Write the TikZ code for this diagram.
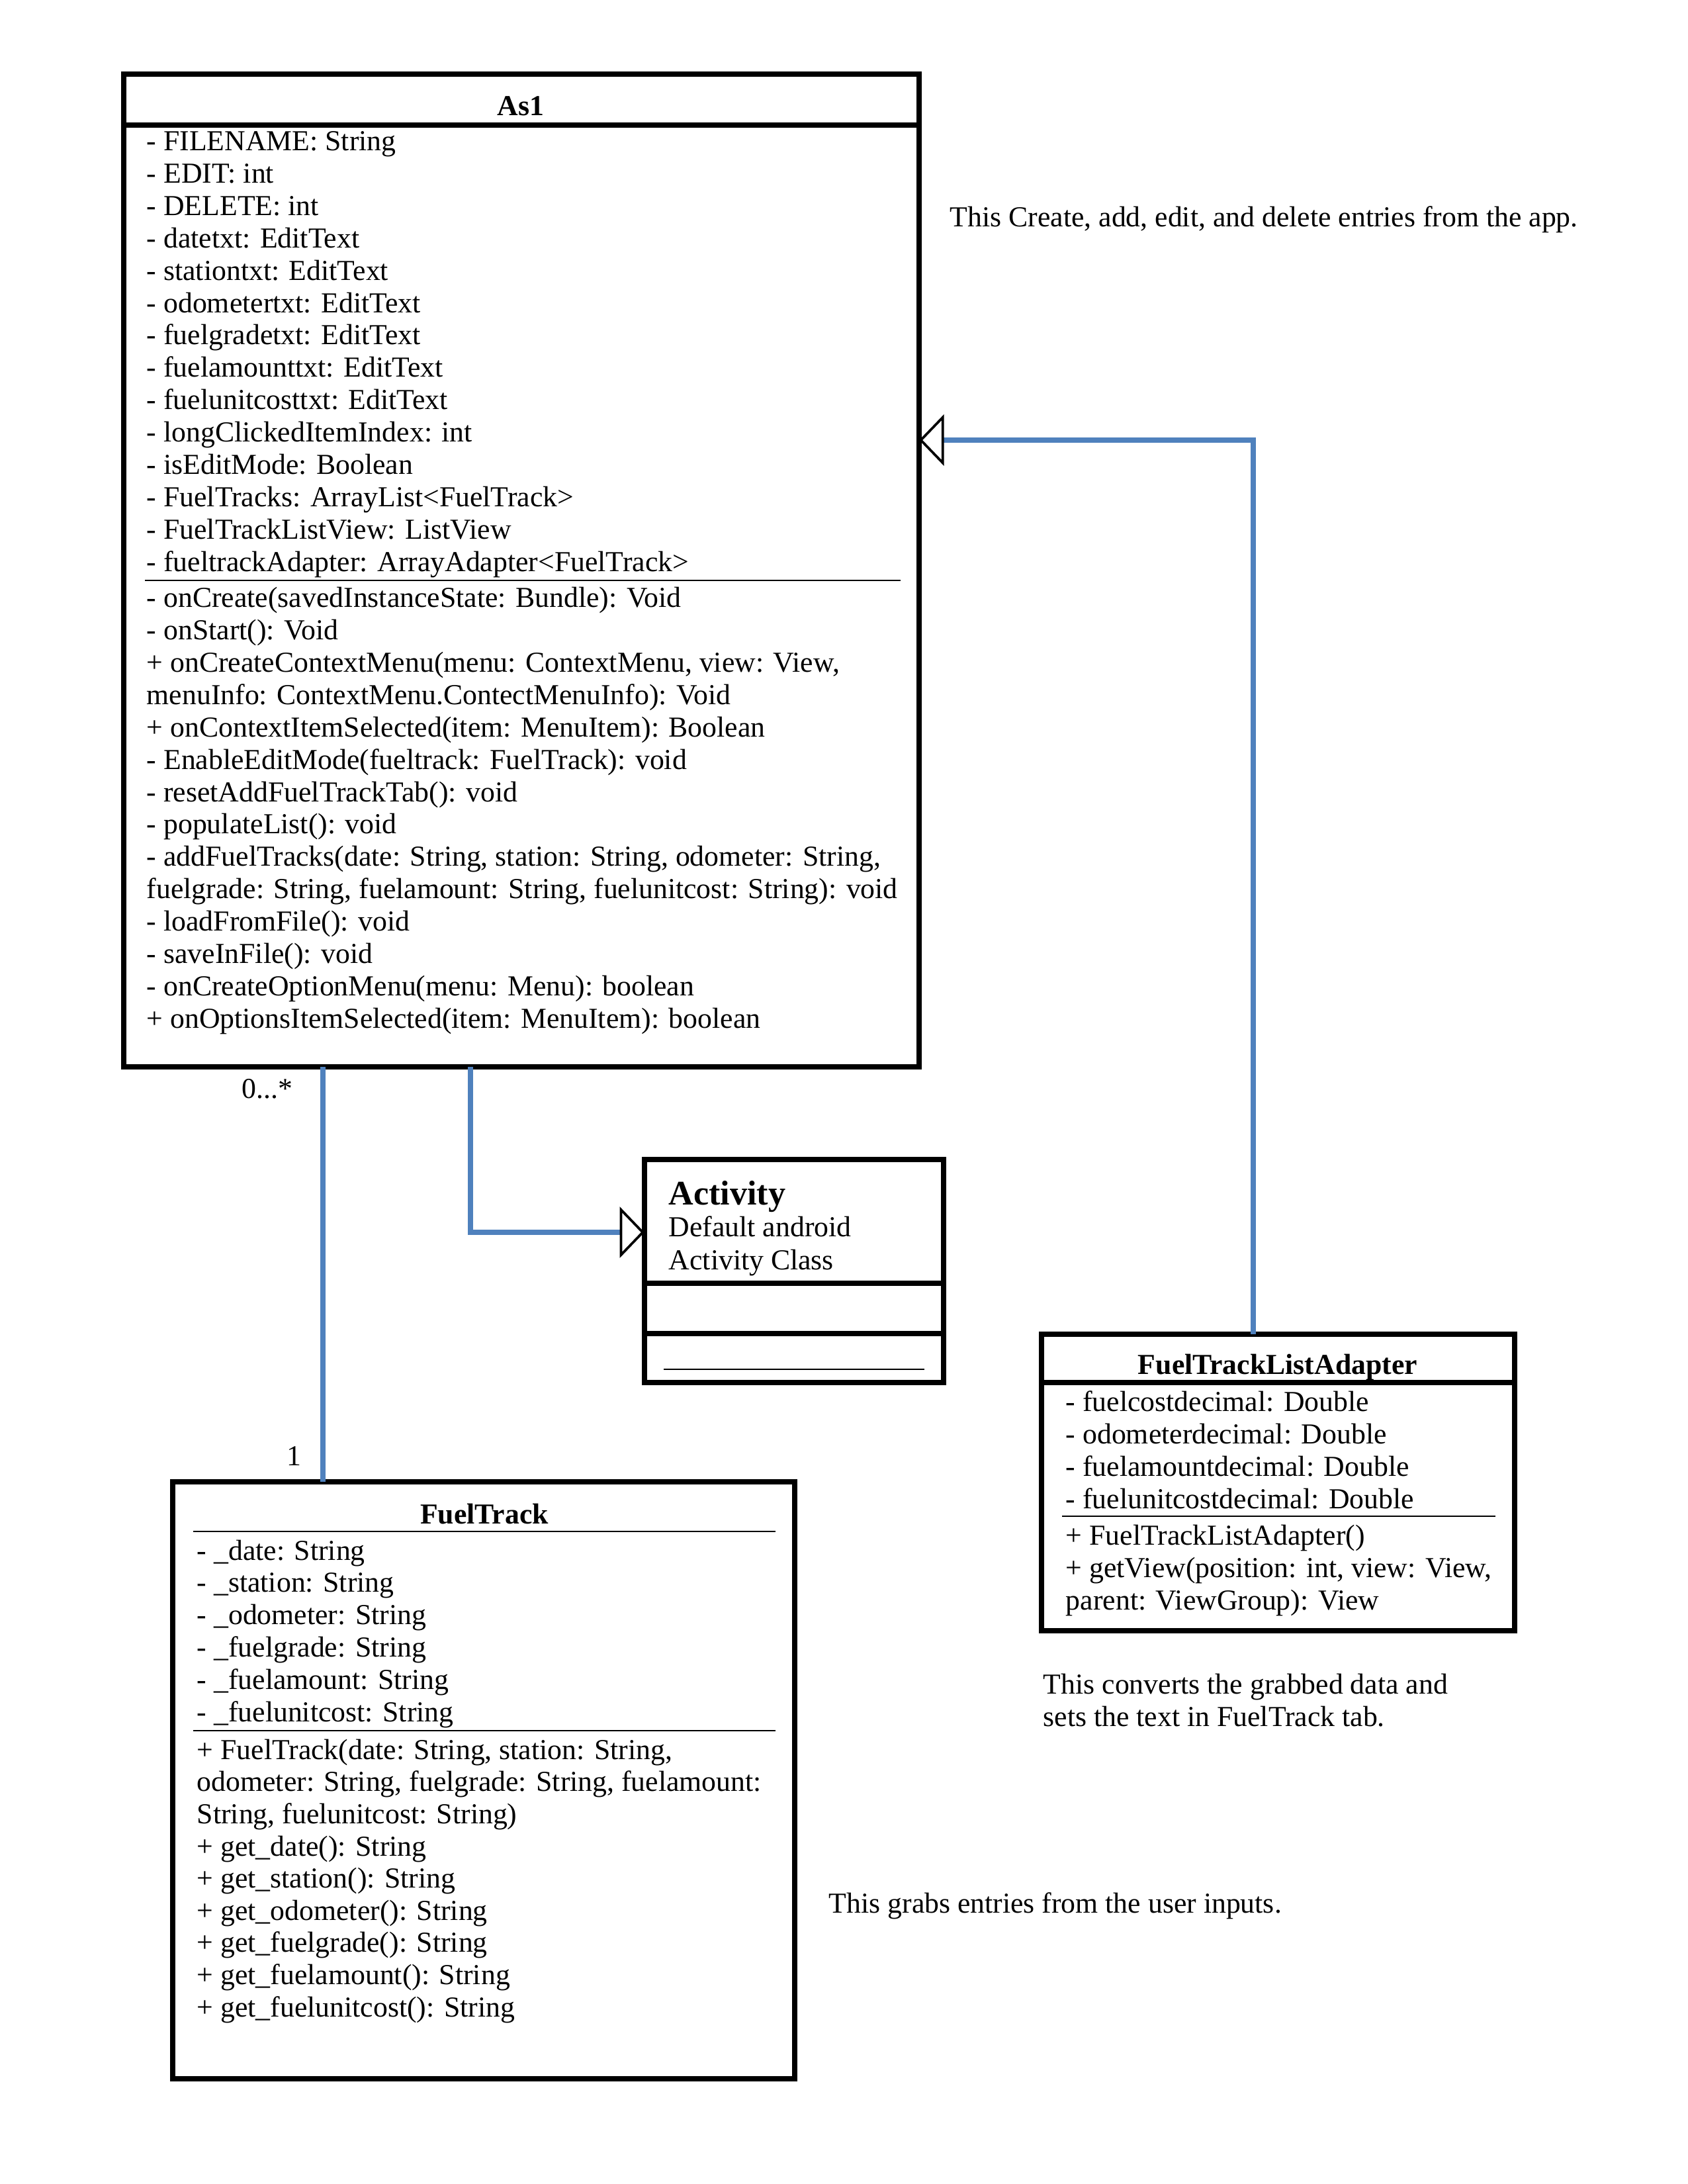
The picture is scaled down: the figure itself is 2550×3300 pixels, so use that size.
\documentclass[tikz,border=0pt]{standalone}
\usepackage{fontspec}
\setmainfont{Liberation Serif}
\usetikzlibrary{arrows.meta}
\definecolor{relblue}{HTML}{4F81BD}

\begin{document}
\begin{tikzpicture}[x=0.24pt,y=-0.24pt,
  box/.style={draw=black, line width=1.8pt, inner sep=0pt, outer sep=0pt, anchor=north west},
  txt/.style={anchor=base west, inner sep=0pt, yshift=-1pt, font=\fontsize{10.5}{11.7}\selectfont},
  ttl/.style={anchor=base, inner sep=0pt, yshift=-1pt, font=\fontsize{10.5}{11.7}\selectfont\bfseries},
  lbl/.style={anchor=base, inner sep=0pt, yshift=-1pt, font=\fontsize{10.5}{11.7}\selectfont},
  thickdiv/.style={line width=2pt},
  thindiv/.style={line width=0.6pt},
  rel/.style={draw=relblue, line width=1.8pt},
  gen/.style={rel, -{Triangle[length=9pt, width=18.5pt, color=black, fill=white, line width=0.9pt]}}
]
\useasboundingbox (0,0) rectangle (2550,3300);

% ---------------- As1 ----------------
\node[box, minimum width=1202*0.24pt, minimum height=1500*0.24pt] (as1) at (187,112) {};
\draw[thickdiv] (187,189) -- (1389,189);
\draw[thindiv] (219,877) -- (1361,877);
\node[ttl] (as1t) at (787,170) {As1};
\foreach \t [count=\i from 0] in {
  {- FILENAME: String},
  {- EDIT: int},
  {- DELETE: int},
  {- datetxt: EditText},
  {- stationtxt: EditText},
  {- odometertxt: EditText},
  {- fuelgradetxt: EditText},
  {- fuelamounttxt: EditText},
  {- fuelunitcosttxt: EditText},
  {- longClickedItemIndex: int},
  {- isEditMode: Boolean},
  {- FuelTracks: ArrayList<FuelTrack>},
  {- FuelTrackListView: ListView},
  {- fueltrackAdapter: ArrayAdapter<FuelTrack>}}
  \node[txt] (as1a\i) at (221,223.5+48.88*\i) {\t};
\foreach \t [count=\i from 0] in {
  {- onCreate(savedInstanceState: Bundle): Void},
  {- onStart(): Void},
  {+ onCreateContextMenu(menu: ContextMenu, view: View,},
  {menuInfo: ContextMenu.ContectMenuInfo): Void},
  {+ onContextItemSelected(item: MenuItem): Boolean},
  {- EnableEditMode(fueltrack: FuelTrack): void},
  {- resetAddFuelTrackTab(): void},
  {- populateList(): void},
  {- addFuelTracks(date: String, station: String, odometer: String,},
  {fuelgrade: String, fuelamount: String, fuelunitcost: String): void},
  {- loadFromFile(): void},
  {- saveInFile(): void},
  {- onCreateOptionMenu(menu: Menu): boolean},
  {+ onOptionsItemSelected(item: MenuItem): boolean}}
  \node[txt] (as1m\i) at (221,913.6+48.88*\i) {\t};

% ---------------- Activity ----------------
\node[box, minimum width=452*0.24pt, minimum height=337*0.24pt] (act) at (974,1752) {};
\draw[thickdiv] (974,1939) -- (1426,1939);
\draw[thickdiv] (974,2015) -- (1426,2015);
\draw[thindiv] (1003,2069) -- (1397,2069);
\node[anchor=base west, inner sep=0pt, font=\fontsize{12.5}{14}\selectfont\bfseries] (actt) at (1010,1820) {Activity};
\node[txt, yshift=1pt] (actd1) at (1010,1868) {Default android};
\node[txt, yshift=1pt] (actd2) at (1010,1918) {Activity Class};

% ---------------- FuelTrackListAdapter ----------------
\node[box, minimum width=715*0.24pt, minimum height=448*0.24pt] (ftla) at (1574,2016) {};
\draw[thickdiv] (1574,2089) -- (2289,2089);
\draw[thindiv] (1605,2291) -- (2260,2291);
\node[ttl] (ftlat) at (1931,2072) {FuelTrackListAdapter};
\foreach \t [count=\i from 0] in {
  {- fuelcostdecimal: Double},
  {- odometerdecimal: Double},
  {- fuelamountdecimal: Double},
  {- fuelunitcostdecimal: Double}}
  \node[txt] (ftlaa\i) at (1610,2128.6+49*\i) {\t};
\foreach \t [count=\i from 0] in {
  {+ FuelTrackListAdapter()},
  {+ getView(position: int, view: View,},
  {parent: ViewGroup): View}}
  \node[txt] (ftlam\i) at (1610,2330.6+49*\i) {\t};

% ---------------- FuelTrack ----------------
\node[box, minimum width=940*0.24pt, minimum height=902*0.24pt] (ft) at (261,2239) {};
\draw[thindiv] (292,2314) -- (1172,2314);
\draw[thindiv] (292,2615) -- (1172,2615);
\node[ttl] (ftt) at (732,2298) {FuelTrack};
\foreach \t [count=\i from 0] in {
  {- \_date: String},
  {- \_station: String},
  {- \_odometer: String},
  {- \_fuelgrade: String},
  {- \_fuelamount: String},
  {- \_fuelunitcost: String}}
  \node[txt] (fta\i) at (297,2353+48.8*\i) {\t};
\foreach \t [count=\i from 0] in {
  {+ FuelTrack(date: String, station: String,},
  {odometer: String, fuelgrade: String, fuelamount:},
  {String, fuelunitcost: String)},
  {+ get\_date(): String},
  {+ get\_station(): String},
  {+ get\_odometer(): String},
  {+ get\_fuelgrade(): String},
  {+ get\_fuelamount(): String},
  {+ get\_fuelunitcost(): String}}
  \node[txt] (ftm\i) at (297,2654+48.6*\i) {\t};

% ---------------- notes ----------------
\node[txt] (note1) at (1435,338) {This Create, add, edit, and delete entries from the app.};
\node[txt] (note2a) at (1576,2555) {This converts the grabbed data and};
\node[txt] (note2b) at (1576,2604) {sets the text in FuelTrack tab.};
\node[txt] (note3) at (1252,2886) {This grabs entries from the user inputs.};

% ---------------- relations ----------------
\coordinate (k1) at (1894,665);
\coordinate (k2) at (711,1862);
\coordinate (k3) at (488,2000);
\draw[gen] (ftla.north -| k1) |- (as1.east |- k1);
\draw[gen] (as1.south -| k2) |- (act.west |- k2);
\draw[rel] (as1.south -| k3) -- (ft.north -| k3);
\node[lbl] (mult0) at (404,1655) {0...*};
\node[lbl] (mult1) at (444,2210) {1};
\end{tikzpicture}
\end{document}
